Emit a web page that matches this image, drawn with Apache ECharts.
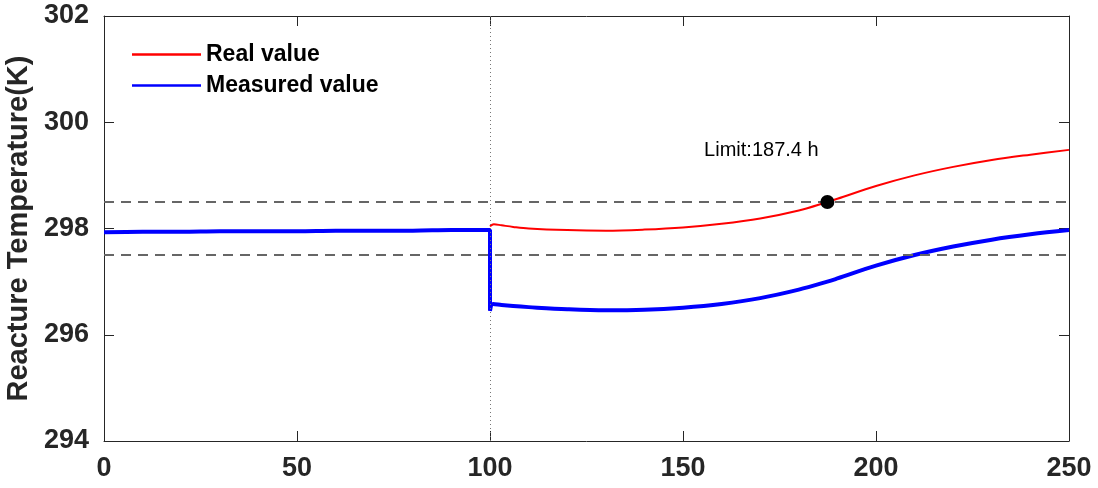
<!DOCTYPE html>
<html>
<head>
<meta charset="utf-8">
<script src="https://cdn.jsdelivr.net/npm/echarts@6/dist/echarts.min.js"></script>
<style>
  html, body { margin: 0; padding: 0; background: #fff; }
  #chart { width: 1098px; height: 488px; }
</style>
</head>
<body>
<div id="chart"></div>
<script>
// Time (h) and reactor temperature (K)
const realTime  = [100, 101, 103, 106, 110, 120, 130, 140, 150, 160, 170, 180, 187.4, 190, 200, 210, 220, 230, 240, 250];
const realTemp  = [298.04, 298.08, 298.06, 298.03, 298.00, 297.97, 297.96, 297.98, 298.02, 298.09, 298.19, 298.34, 298.50, 298.56, 298.80, 299.00, 299.16, 299.29, 299.39, 299.48];

const measTime  = [0, 10, 20, 30, 40, 50, 60, 70, 80, 90, 100, 100, 100.8, 103, 106, 110, 120, 130, 140, 150, 160, 170, 180, 187.4, 190, 200, 210, 220, 230, 240, 250];
const measTemp  = [297.93, 297.94, 297.94, 297.95, 297.95, 297.95, 297.96, 297.96, 297.96, 297.97, 297.97, 296.45, 296.58, 296.56, 296.54, 296.52, 296.48, 296.46, 296.47, 296.51, 296.58, 296.69, 296.85, 297.00, 297.06, 297.30, 297.50, 297.66, 297.79, 297.89, 297.97];

const limitPoint = [187.4, 298.5];
const limitLabel = 'Limit:187.4 h';
const thresholds = [298.5, 297.5];
const faultTime = 100;

const xTicks = { min: 0, max: 250, interval: 50 };
const yTicks = { min: 294, max: 302, interval: 2 };

const seriesNames = ['Real value', 'Measured value'];
const yTitle = 'Reacture Temperature(K)';

const zip = (xs, ys) => xs.map((x, i) => [x, ys[i]]);

const axisColor = '#262626';
const fontFamily = 'Liberation Sans, Arial, sans-serif';
const tickFont = { fontFamily: fontFamily, fontWeight: 'bold', fontSize: 27, color: axisColor };

const baseAxis = {
  axisLine: { show: true, onZero: false, lineStyle: { color: axisColor, width: 1 } },
  axisTick: { show: true, inside: true, length: 10, lineStyle: { color: axisColor, width: 1 } },
  splitLine: { show: false }
};

const chart = echarts.init(document.getElementById('chart'), null, { renderer: 'canvas' });
chart.setOption({
  animation: false,
  backgroundColor: '#fff',
  grid: { left: 104, right: 29, top: 16, bottom: 47, containLabel: false, outerBoundsMode: 'none' },
  legend: {
    orient: 'vertical',
    left: 127,
    top: 38,
    itemWidth: 69,
    itemHeight: 2.5,
    itemGap: 8,
    icon: 'rect',
    data: seriesNames,
    textStyle: { fontFamily: fontFamily, fontWeight: 'bold', fontSize: 23, color: '#000' }
  },
  xAxis: [
    Object.assign({}, baseAxis, xTicks, {
      type: 'value', position: 'bottom',
      axisLabel: Object.assign({ margin: 14 }, tickFont)
    }),
    Object.assign({}, baseAxis, xTicks, {
      type: 'value', position: 'top',
      axisLabel: { show: false }
    })
  ],
  yAxis: [
    Object.assign({}, baseAxis, yTicks, {
      type: 'value', position: 'left',
      name: yTitle,
      nameLocation: 'middle',
      nameGap: 62,
      nameTextStyle: { fontFamily: fontFamily, fontWeight: 'bold', fontSize: 29, color: axisColor },
      axisLabel: Object.assign({ margin: 15 }, tickFont)
    }),
    Object.assign({}, baseAxis, yTicks, {
      type: 'value', position: 'right',
      axisLabel: { show: false }
    })
  ],
  series: [
    {
      name: seriesNames[0],
      type: 'line',
      data: zip(realTime, realTemp),
      smooth: 0.35,
      showSymbol: false,
      color: '#ff0000',
      lineStyle: { color: '#ff0000', width: 2 },
      z: 4,
      markLine: {
        silent: true,
        symbol: 'none',
        label: { show: false },
        data: [
          { yAxis: thresholds[0], lineStyle: { color: '#666', width: 2, type: [10, 7] } },
          { yAxis: thresholds[1], lineStyle: { color: '#666', width: 2, type: [10, 7] } },
          { xAxis: faultTime, lineStyle: { color: '#777', width: 1, type: [1, 3] } }
        ]
      }
    },
    {
      name: seriesNames[1],
      type: 'line',
      data: zip(measTime, measTemp),
      smooth: 0.35,
      showSymbol: false,
      color: '#0000ff',
      lineStyle: { color: '#0000ff', width: 4 },
      z: 3
    },
    {
      name: 'limit',
      type: 'scatter',
      data: [limitPoint],
      symbol: 'circle',
      symbolSize: 14,
      itemStyle: { color: '#000', opacity: 1 },
      z: 6,
      label: {
        show: true,
        formatter: limitLabel,
        position: 'inside',
        offset: [-66, -51],
        fontFamily: fontFamily,
        fontSize: 20,
        color: '#000',
        opacity: 1
      }
    }
  ]
});
</script>
</body>
</html>
